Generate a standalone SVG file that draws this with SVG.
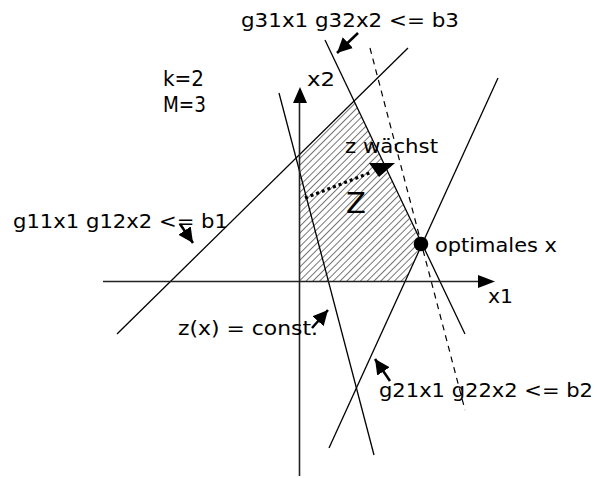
<svg xmlns="http://www.w3.org/2000/svg" width="597" height="478" viewBox="0 0 597 478">
<style>
  .ln { stroke:#000; stroke-width:1.3; fill:none; }
  .ax { stroke:#222; stroke-width:1.6; fill:none; }
  .dash { stroke:#000; stroke-width:1.2; fill:none; stroke-dasharray:6 5; }
  .ann { stroke:#000; stroke-width:2.5; fill:none; marker-end:url(#ah); }
  .t { font-family:"DejaVu Sans", Verdana, sans-serif; font-size:19.5px; fill:#000; }
</style>
<defs>
  <marker id="ah" markerUnits="userSpaceOnUse" markerWidth="18" markerHeight="16" refX="15" refY="7.5" orient="auto">
    <path d="M0,0 L15,7.5 L0,15 z" fill="#000"/>
  </marker>
  <pattern id="hatch" patternUnits="userSpaceOnUse" width="4.8" height="4.8" patternTransform="rotate(-45)">
    <line x1="-1" y1="2.4" x2="6" y2="2.4" stroke="#555" stroke-width="0.8"/>
  </pattern>
</defs>

<g id="region">
  <polygon points="299.5,281.5 299.5,155 354,101 421,244 405,281.5" fill="url(#hatch)" stroke="none"/>
</g>

<g id="connectors">
  <line class="ln" x1="117" y1="334" x2="408" y2="48"/>
  <line class="ln" x1="325" y1="40" x2="465" y2="334"/>
  <line class="ln" x1="329" y1="448" x2="498" y2="78"/>
  <line class="ln" x1="279" y1="93" x2="374" y2="455"/>
  <line class="dash" x1="370" y1="48" x2="465" y2="410"/>
  <line class="ax" x1="103" y1="281.5" x2="480" y2="281.5"/>
  <polygon points="495,281.5 478,275 478,288" fill="#000"/>
  <line class="ax" x1="299.5" y1="476" x2="299.5" y2="101"/>
  <polygon points="300,87 293,103 307,103" fill="#000"/>
  <line x1="305" y1="198" x2="372" y2="172" stroke="#000" stroke-width="3.2" stroke-dasharray="3 3"/>
  <polygon points="369,163 395,163 379,177" fill="#000"/>
  <line class="ann" x1="358" y1="33" x2="337" y2="53"/>
  <line class="ann" x1="180" y1="224" x2="193" y2="243"/>
  <line class="ann" x1="312" y1="328" x2="328" y2="310"/>
  <line class="ann" x1="390" y1="381" x2="375" y2="359"/>
</g>

<g id="optimum">
  <circle cx="421" cy="244" r="7.3" fill="#000"/>
  <text class="t" x="435" y="252" textLength="122" lengthAdjust="spacingAndGlyphs">optimales x</text>
</g>
<g id="label-b3"><text class="t" x="241" y="27" textLength="218" lengthAdjust="spacingAndGlyphs">g31x1 g32x2 &lt;= b3</text></g>
<g id="label-km">
  <text class="t" x="163" y="86" textLength="41" lengthAdjust="spacingAndGlyphs" style="font-size:21px">k=2</text>
  <text class="t" x="163" y="112" textLength="43" lengthAdjust="spacingAndGlyphs" style="font-size:21px">M=3</text>
</g>
<g id="label-x2"><text class="t" x="307" y="86" textLength="28" lengthAdjust="spacingAndGlyphs">x2</text></g>
<g id="label-x1"><text class="t" x="488" y="303" textLength="25" lengthAdjust="spacingAndGlyphs">x1</text></g>
<g id="label-b1"><text class="t" x="13" y="228" textLength="215" lengthAdjust="spacingAndGlyphs">g11x1 g12x2 &lt;= b1</text></g>
<g id="label-const"><text class="t" x="178" y="335" textLength="140" lengthAdjust="spacingAndGlyphs">z(x) = const.</text></g>
<g id="label-b2"><text class="t" x="379" y="397" textLength="214" lengthAdjust="spacingAndGlyphs">g21x1 g22x2 &lt;= b2</text></g>
<g id="label-wachst"><text class="t" x="345" y="153" textLength="93" lengthAdjust="spacingAndGlyphs">z wächst</text></g>
<g id="label-Z"><text class="t" x="346" y="213" style="font-size:29px">Z</text></g>
</svg>
